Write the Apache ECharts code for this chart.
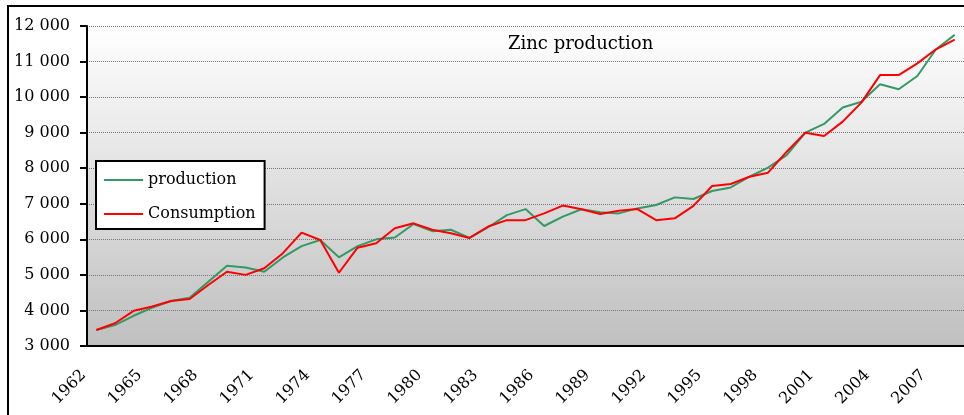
<!DOCTYPE html>
<html>
<head>
<meta charset="utf-8">
<script src="https://cdn.jsdelivr.net/npm/echarts@6/dist/echarts.min.js"></script>
<style>
  html, body { margin: 0; padding: 0; background: #fff; }
  #chart { width: 964px; height: 415px; }
</style>
</head>
<body>
<div id="chart"></div>
<script>
const years = [
  '1962', '1963', '1964', '1965', '1966', '1967', '1968', '1969', '1970', '1971',
  '1972', '1973', '1974', '1975', '1976', '1977', '1978', '1979', '1980', '1981',
  '1982', '1983', '1984', '1985', '1986', '1987', '1988', '1989', '1990', '1991',
  '1992', '1993', '1994', '1995', '1996', '1997', '1998', '1999', '2000', '2001',
  '2002', '2003', '2004', '2005', '2006', '2007', '2008'
]

const production = [
  3450, 3590, 3850, 4080, 4265, 4360, 4810, 5260, 5210, 5090,
  5490, 5810, 5980, 5495, 5810, 6000, 6050, 6430, 6230, 6270,
  6040, 6340, 6680, 6850, 6375, 6640, 6845, 6760, 6730, 6870,
  6965, 7180, 7135, 7360, 7460, 7760, 8015, 8370, 9000, 9245,
  9710, 9870, 10360, 10220, 10595, 11345, 11750
]

const consumption = [
  3450, 3640, 3990, 4110, 4265, 4320, 4715, 5090, 5000, 5185,
  5610, 6190, 5980, 5060, 5765, 5890, 6310, 6450, 6270, 6170,
  6040, 6360, 6540, 6540, 6730, 6950, 6845, 6710, 6805, 6850,
  6540, 6590, 6940, 7500, 7555, 7760, 7875, 8465, 9000, 8905,
  9310, 9845, 10620, 10620, 10950, 11345, 11620
]

const font = 'DejaVu Serif'

const chart = echarts.init(document.getElementById('chart'))

// 千位用空格分隔，如 "12 000"
const fmt = (v) => {
  const s = String(v)
  return s.length > 3 ? s.slice(0, -3) + '\u00a0' + s.slice(-3) : s
}

chart.setOption({
  animation: false,
  backgroundColor: '#fff',
  textStyle: { fontFamily: font },
  graphic: [{
    type: 'rect',
    z: 100,
    shape: { x: 8, y: 6, width: 1200, height: 800 },
    style: { fill: 'none', stroke: '#000', lineWidth: 2 }
  }],
  title: {
    text: 'Zinc production',
    left: 503,
    top: 30,
    textStyle: { fontFamily: font, fontSize: 18, fontWeight: 'normal', color: '#000' }
  },
  legend: {
    orient: 'vertical',
    left: 96,
    top: 161,
    padding: [11, 9, 7, 7],
    itemWidth: 39,
    itemHeight: 14,
    itemGap: 18,
    backgroundColor: '#fff',
    borderColor: '#000',
    borderWidth: 2,
    itemStyle: { opacity: 0 },
    lineStyle: { width: 2 },
    textStyle: { fontFamily: font, fontSize: 16, color: '#000' },
    data: ['production', 'Consumption']
  },
  grid: {
    left: 87,
    top: 26,
    width: 890,
    height: 320,
    show: true,
    borderWidth: 0,
    backgroundColor: {
      type: 'linear', x: 0, y: 0, x2: 0, y2: 1,
      colorStops: [
        { offset: 0, color: '#ffffff' },
        { offset: 1, color: '#bfbfbf' }
      ]
    }
  },
  xAxis: {
    type: 'category',
    data: years,
    boundaryGap: true,
    axisLine: { lineStyle: { color: '#000', width: 2 } },
    axisTick: { interval: 0, length: 6, lineStyle: { color: '#000', width: 2 } },
    axisLabel: {
      interval: 2,
      rotate: 45,
      margin: 14,
      padding: [0, 18, 0, 0],
      color: '#000',
      fontFamily: font,
      fontSize: 16
    }
  },
  yAxis: {
    type: 'value',
    min: 3000,
    max: 12000,
    interval: 1000,
    axisLine: { show: true, lineStyle: { color: '#000', width: 2 } },
    axisTick: { show: true, length: 7, lineStyle: { color: '#000', width: 2 } },
    axisLabel: { margin: 17, color: '#000', fontFamily: font, fontSize: 16, formatter: fmt },
    splitLine: { lineStyle: { color: '#777', type: 'dotted', width: 1 } }
  },
  series: [
    {
      name: 'production',
      type: 'line',
      data: production,
      symbol: 'none',
      lineStyle: { color: '#339966', width: 2 },
      itemStyle: { color: '#339966' }
    },
    {
      name: 'Consumption',
      type: 'line',
      data: consumption,
      symbol: 'none',
      lineStyle: { color: '#ff0000', width: 2 },
      itemStyle: { color: '#ff0000' }
    }
  ]
})
</script>
</body>
</html>
